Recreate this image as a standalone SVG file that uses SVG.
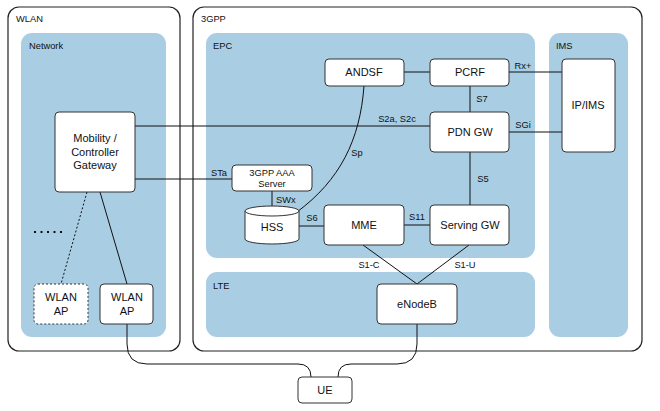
<svg xmlns="http://www.w3.org/2000/svg" width="660" height="411" viewBox="0 0 660 411">
<style>
.outer{fill:#fff;stroke:#222;stroke-width:1.2}
.panel{fill:#a9cde3;stroke:none}
.node{fill:#fff;stroke:#333;stroke-width:1}
.dash{stroke-dasharray:2,2}
.t{font-family:"Liberation Sans",Arial,sans-serif;font-size:11px;fill:#111;text-anchor:middle}
.pl{font-family:"Liberation Sans",Arial,sans-serif;font-size:9.3px;fill:#111}
.lb{font-family:"Liberation Sans",Arial,sans-serif;font-size:9.3px;fill:#111;text-anchor:middle}
.c{fill:none;stroke:#111;stroke-width:1}
</style>
<rect width="660" height="411" fill="#fff"/>
<g id="containers">
<rect class="outer" x="8" y="7" width="172" height="344" rx="11"/>
<text class="pl" x="16" y="22">WLAN</text>
<rect class="outer" x="193" y="7" width="449" height="344" rx="11"/>
<text class="pl" x="201" y="22">3GPP</text>
<rect class="panel" x="21" y="33" width="145" height="304" rx="11"/>
<text class="pl" x="29" y="49">Network</text>
<rect class="panel" x="206" y="33" width="329" height="225" rx="11"/>
<text class="pl" x="213" y="49">EPC</text>
<rect class="panel" x="549" y="33" width="79" height="304" rx="11"/>
<text class="pl" x="556" y="49">IMS</text>
<rect class="panel" x="206" y="272" width="329" height="65" rx="11"/>
<text class="pl" x="213" y="289">LTE</text>
</g>
<g id="connectors">
<line class="c" x1="135" y1="126" x2="430" y2="126"/>
<text class="lb" x="397" y="122">S2a, S2c</text>
<line class="c" x1="135" y1="179" x2="232" y2="179"/>
<text class="lb" x="219" y="176">STa</text>
<line class="c" x1="272" y1="191" x2="272" y2="207"/>
<text class="pl" x="276" y="203">SWx</text>
<line class="c" x1="299" y1="226" x2="324" y2="226"/>
<text class="lb" x="312" y="221">S6</text>
<path class="c" d="M364 86 C360 140 340 180 297 212"/>
<text class="lb" x="357" y="156">Sp</text>
<line class="c" x1="404" y1="72" x2="430" y2="72"/>
<line class="c" x1="509" y1="72" x2="562" y2="72"/>
<text class="lb" x="523" y="69">Rx+</text>
<line class="c" x1="470" y1="86" x2="470" y2="112"/>
<text class="lb" x="482" y="102">S7</text>
<line class="c" x1="509" y1="132" x2="562" y2="132"/>
<text class="lb" x="523" y="128">SGi</text>
<line class="c" x1="470" y1="152" x2="470" y2="205"/>
<text class="lb" x="483" y="182">S5</text>
<line class="c" x1="404" y1="225" x2="430" y2="225"/>
<text class="lb" x="417" y="220">S11</text>
<line class="c" x1="363" y1="245" x2="417" y2="284"/>
<text class="lb" x="369" y="268">S1-C</text>
<line class="c" x1="469" y1="245" x2="417" y2="284"/>
<text class="lb" x="465" y="268">S1-U</text>
<line class="c dash" x1="87" y1="192" x2="61" y2="284"/>
<line class="c" x1="100" y1="192" x2="127" y2="284"/>
<line x1="34" y1="232" x2="62" y2="232" stroke="#111" stroke-width="2" stroke-dasharray="2,4.5"/>
<path class="c" d="M127 324 L127 344 Q127 364 147 364 L298 364 Q311 364 311 377"/>
<path class="c" d="M338 377 Q338 364 351 364 L397 364 Q417 364 417 344 L417 324"/>
</g>
<g id="mobility-gw">
<rect class="node" x="55" y="112" width="80" height="80" rx="4"/>
<text class="t" x="95" y="142">Mobility /</text>
<text class="t" x="95" y="156">Controller</text>
<text class="t" x="95" y="169">Gateway</text>
</g>
<g id="wlan-ap-dashed">
<rect class="node dash" x="34" y="284" width="54" height="40" rx="4"/>
<text class="t" x="61" y="301">WLAN</text>
<text class="t" x="61" y="315">AP</text>
</g>
<g id="wlan-ap">
<rect class="node" x="100" y="284" width="53" height="40" rx="4"/>
<text class="t" x="127" y="301">WLAN</text>
<text class="t" x="127" y="315">AP</text>
</g>
<g id="aaa">
<rect class="node" x="232" y="165" width="80" height="26" rx="4"/>
<text class="lb" x="272" y="176">3GPP AAA</text>
<text class="lb" x="272" y="187">Server</text>
</g>
<g id="hss">
<path class="node" d="M245 211 L245 239 A27 5 0 0 0 299 239 L299 211"/>
<ellipse class="node" cx="272" cy="211" rx="27" ry="5"/>
<text class="t" x="272" y="231">HSS</text>
</g>
<g id="andsf">
<rect class="node" x="325" y="59" width="79" height="27" rx="4"/>
<text class="t" x="364" y="76">ANDSF</text>
</g>
<g id="pcrf">
<rect class="node" x="430" y="59" width="79" height="27" rx="4"/>
<text class="t" x="470" y="76">PCRF</text>
</g>
<g id="pdn-gw">
<rect class="node" x="430" y="112" width="79" height="40" rx="4"/>
<text class="t" x="470" y="136">PDN GW</text>
</g>
<g id="ip-ims">
<rect class="node" x="562" y="59" width="53" height="93" rx="4"/>
<text class="t" x="588" y="109">IP/IMS</text>
</g>
<g id="mme">
<rect class="node" x="324" y="205" width="80" height="40" rx="4"/>
<text class="t" x="364" y="229">MME</text>
</g>
<g id="serving-gw">
<rect class="node" x="430" y="205" width="79" height="40" rx="4"/>
<text class="t" x="470" y="229">Serving GW</text>
</g>
<g id="enodeb">
<rect class="node" x="377" y="284" width="80" height="40" rx="4"/>
<text class="t" x="417" y="308">eNodeB</text>
</g>
<g id="ue">
<rect class="node" x="298" y="377" width="54" height="26" rx="4"/>
<text class="t" x="325" y="394">UE</text>
</g>
</svg>
